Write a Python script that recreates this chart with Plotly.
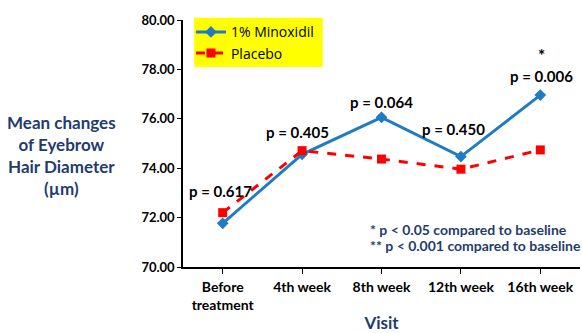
import plotly.graph_objects as go

# Visits and mean eyebrow hair diameter (µm)
visits = ["Before<br>treatment", "4th week", "8th week", "12th week", "16th week"]
minoxidil = [71.77, 74.56, 76.06, 74.47, 76.96]
placebo = [72.20, 74.71, 74.37, 73.96, 74.74]

# p-values vs. baseline, placed above each visit
p_labels = ["p = 0.617", "p = 0.405", "p = 0.064", "p = 0.450", "p = 0.006"]
p_label_y = [73.09, 75.46, 76.67, 75.58, 77.72]
p_label_dx = [-2, -5, 0, -7, 1]

footnotes = ["* p < 0.05 compared to baseline", "** p < 0.001 compared to baseline"]
footnote_y = [71.52, 70.86]

BLUE = "#1F7BC4"
RED = "#FF0000"
NAVY = "#1F3C6E"
FONT = "Lato"

x_idx = list(range(len(visits)))

fig = go.Figure()
fig.add_trace(go.Scatter(
    x=x_idx, y=minoxidil, name="1% Minoxidil", mode="lines+markers",
    line=dict(color=BLUE, width=3),
    marker=dict(symbol="diamond", size=9, color=BLUE),
))
fig.add_trace(go.Scatter(
    x=x_idx, y=placebo, name="Placebo", mode="lines+markers",
    line=dict(color=RED, width=3, dash="dash"),
    marker=dict(symbol="square", size=9, color=RED),
))

for i, (lab, yy, dx) in enumerate(zip(p_labels, p_label_y, p_label_dx)):
    fig.add_annotation(x=i, y=yy, text=f"<b>{lab}</b>", showarrow=False,
                       xshift=dx, font=dict(family=FONT, size=15, color="black"))

# significance marker above the last visit
fig.add_annotation(x=4, y=78.56, text="<b>*</b>", showarrow=False, xshift=1,
                   font=dict(family=FONT, size=17, color="black"))

# footnote lines
for txt, yy in zip(footnotes, footnote_y):
    fig.add_annotation(x=0.465, y=yy, xref="paper", yref="y", xanchor="left",
                       align="left", showarrow=False, text=f"<b>{txt}</b>",
                       font=dict(family=FONT, size=14, color=NAVY))

# y-axis title
fig.add_annotation(x=-0.305, y=0.453, xref="paper", yref="paper", showarrow=False,
                   xanchor="center", yanchor="middle",
                   text="<b>Mean changes<br>of Eyebrow<br>Hair Diameter<br>(µm)</b>",
                   font=dict(family=FONT, size=17, color=NAVY))

# legend background
fig.add_shape(type="rect", xref="paper", yref="paper",
              x0=0.028, x1=0.352, y0=0.81, y1=1.009,
              fillcolor="#FFFF00", line=dict(width=0), layer="below")

fig.update_layout(
    width=582, height=333,
    margin=dict(l=183, r=2, t=20, b=66),
    paper_bgcolor="white", plot_bgcolor="white",
    showlegend=True,
    legend=dict(x=0.02, y=1.015, xanchor="left", yanchor="top",
                bgcolor="rgba(0,0,0,0)", itemwidth=30,
                font=dict(family="Open Sans", size=14, color="black"),
                tracegroupgap=0),
    xaxis=dict(
        range=[-0.5, 4.5], tickmode="array", tickvals=x_idx,
        ticktext=[f"<b>{v}</b>" for v in visits],
        showline=True, linecolor="black", linewidth=1.5,
        ticks="outside", ticklen=5, tickcolor="black",
        showgrid=False, zeroline=False, ticklabelstandoff=1,
        automargin=False,
        tickfont=dict(family=FONT, size=14, color="black"),
        title=dict(text="<b>Visit</b>", standoff=16,
                   font=dict(family=FONT, size=17, color=NAVY)),
    ),
    yaxis=dict(
        range=[70, 80], dtick=2, tickformat=".2f",
        showline=True, linecolor="black", linewidth=1.5,
        ticks="outside", ticklen=4, tickcolor="black",
        showgrid=False, zeroline=False, automargin=False,
        tickprefix="<b>", ticksuffix="</b>",
        tickfont=dict(family=FONT, size=13, color="black"),
    ),
)

fig.write_html("out.html")
